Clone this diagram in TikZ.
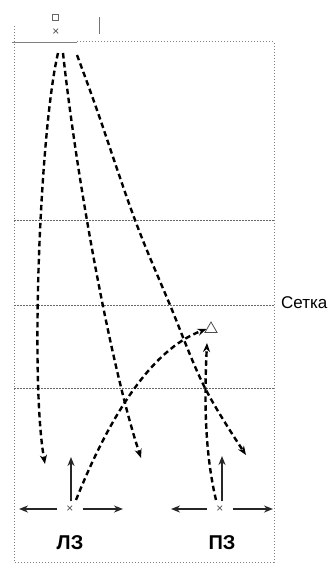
\documentclass[tikz,border=0pt]{standalone}
\usepackage{fontspec}
\setmainfont{Liberation Sans}
\usetikzlibrary{arrows.meta,shapes.geometric}
\begin{document}
\begin{tikzpicture}[x=1pt,y=-1pt,
  court/.style={draw=black!50, line width=1pt, dotted},
  zone/.style={draw=black!60, line width=1pt, dash pattern=on 1.5pt off 1.5pt},
  traj/.style={draw=black, line width=2.4pt, dash pattern=on 5.5pt off 3.5pt, -{Stealth[length=9pt,width=7pt]}},
  move/.style={draw=black!85, line width=2pt, -{Stealth[length=9pt,width=7pt]}},
  player/.style={font=\fontsize{12}{12}\selectfont, text=black!70, inner sep=1pt},
  zonelabel/.style={font=\bfseries\fontsize{20}{20}\selectfont, inner sep=0pt},
  tri/.style={regular polygon, regular polygon sides=3, draw=black!70, line width=0.8pt, minimum size=14pt, inner sep=0pt}
]
\useasboundingbox (0,0) rectangle (335,567);
% court
\draw[draw=black!50, line width=0.8pt] (12,42) -- (77,42);
\draw[court] (77,42) -- (274,42) -- (274,562) -- (14,562) -- (14,25);
\draw[zone] (14,220) -- (274,220);
\draw[zone] (14,305) -- (274,305);
\draw[zone] (14,388) -- (274,388);
\node[anchor=west, font=\fontsize{17}{17}\selectfont, inner sep=0pt] (net) at (281,303) {Сетка};
% top elements
\node[draw=black!60, line width=0.7pt, minimum width=6pt, minimum height=6pt, inner sep=0pt] (coach) at (55,17) {};
\node[player] (server) at (56,32) {×};
\draw[draw=black!55, line width=0.9pt] (99,17) -- (99,34);
\coordinate (s1) at (58,53);
\coordinate (s2) at (63,53);
\coordinate (s3) at (77,55);
% players
\node[player] (lp) at (70,509) {×};
\node[player] (rp) at (220,509) {×};
\node[tri] (tr) at (211,329) {};
\coordinate (e1) at (45,464);
\coordinate (e2) at (141,458);
\coordinate (e3) at (246,455);
% serves
\draw[traj] (s1) .. controls (40,130) and (30,380) .. (e1);
\draw[traj] (s2) .. controls (78,190) and (112,370) .. (e2);
\draw[traj] plot[smooth, tension=0.6] coordinates {(77,55) (97,110) (135,220) (170,305) (205,388) (246,455)};
% attacks
\draw[traj] (76,500) .. controls (108,420) and (150,350) .. (tr.west);
\draw[traj] (216,500) .. controls (203,445) and (205,385) .. (207,343);
% movement arrows
\draw[move] (lp.north) ++(1,-3) -- (71,457);
\draw[move] (lp.west) ++(-8,0) -- (19,509);
\draw[move] (lp.east) ++(8,0) -- (123,509);
\draw[move] (rp.north) ++(2,-3) -- (222,456);
\draw[move] (rp.west) ++(-8,0) -- (171,509);
\draw[move] (rp.east) ++(8,0) -- (273,509);
% zone labels
\node[zonelabel] (lz) at (70,543) {ЛЗ};
\node[zonelabel] (pz) at (222,543) {ПЗ};
\end{tikzpicture}
\end{document}
